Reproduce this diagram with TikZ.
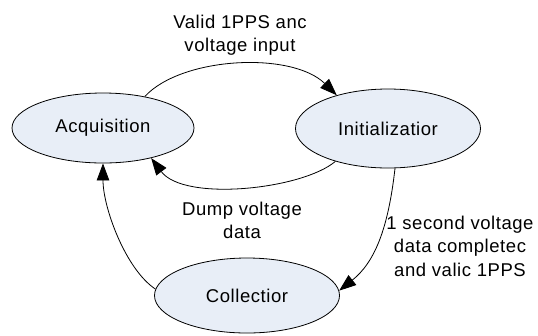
\documentclass[tikz,border=0pt]{standalone}
\usepackage{fontspec}
\setmainfont{Liberation Sans}[LetterSpace=3]
\usetikzlibrary{arrows.meta,shapes.geometric}
\definecolor{efill}{RGB}{232,238,247}
\begin{document}
\begin{tikzpicture}[x=1bp,y=-1bp,
  txt/.style={font=\fontsize{18.5bp}{23.5bp}\selectfont},
  state/.style={ellipse, draw=black, line width=0.8bp, fill=efill, inner sep=0pt, txt},
  trans/.style={line width=0.8bp, -{Triangle[length=17bp,width=12.5bp]}},
  lbl/.style={align=center, inner sep=0pt, txt}]
\useasboundingbox (0,0) rectangle (538,335);
\node[state, minimum width=182bp, minimum height=70bp] (acq) at (103,128) {Acquisition};
\node[state, minimum width=185bp, minimum height=79bp] (init) at (388,128.5) {Initializatior};
\node[state, minimum width=185bp, minimum height=75bp] (coll) at (247,295.5) {Collectior};

\draw[trans] (acq.37) .. controls +(37,-40) and +(-45,-44) .. (init.147);
\draw[trans] (init.212) .. controls +(-33,28) and +(33,44) .. (acq.328);
\draw[trans] (init.280) .. controls +(-7,62) and +(35,-28) .. (coll.3);
\draw[trans] (coll.176) .. controls +(-30,-20) and +(0,44) .. (acq.south);

\node[lbl] (l1) at (240,35) {Valid 1PPS anc\\voltage input};
\node[lbl] (l2) at (242,220.5) {Dump voltage\\data};
\node[lbl] (l3) at (460,246) {1 second voltage\\data completec\\and valic 1PPS};
\end{tikzpicture}
\end{document}
